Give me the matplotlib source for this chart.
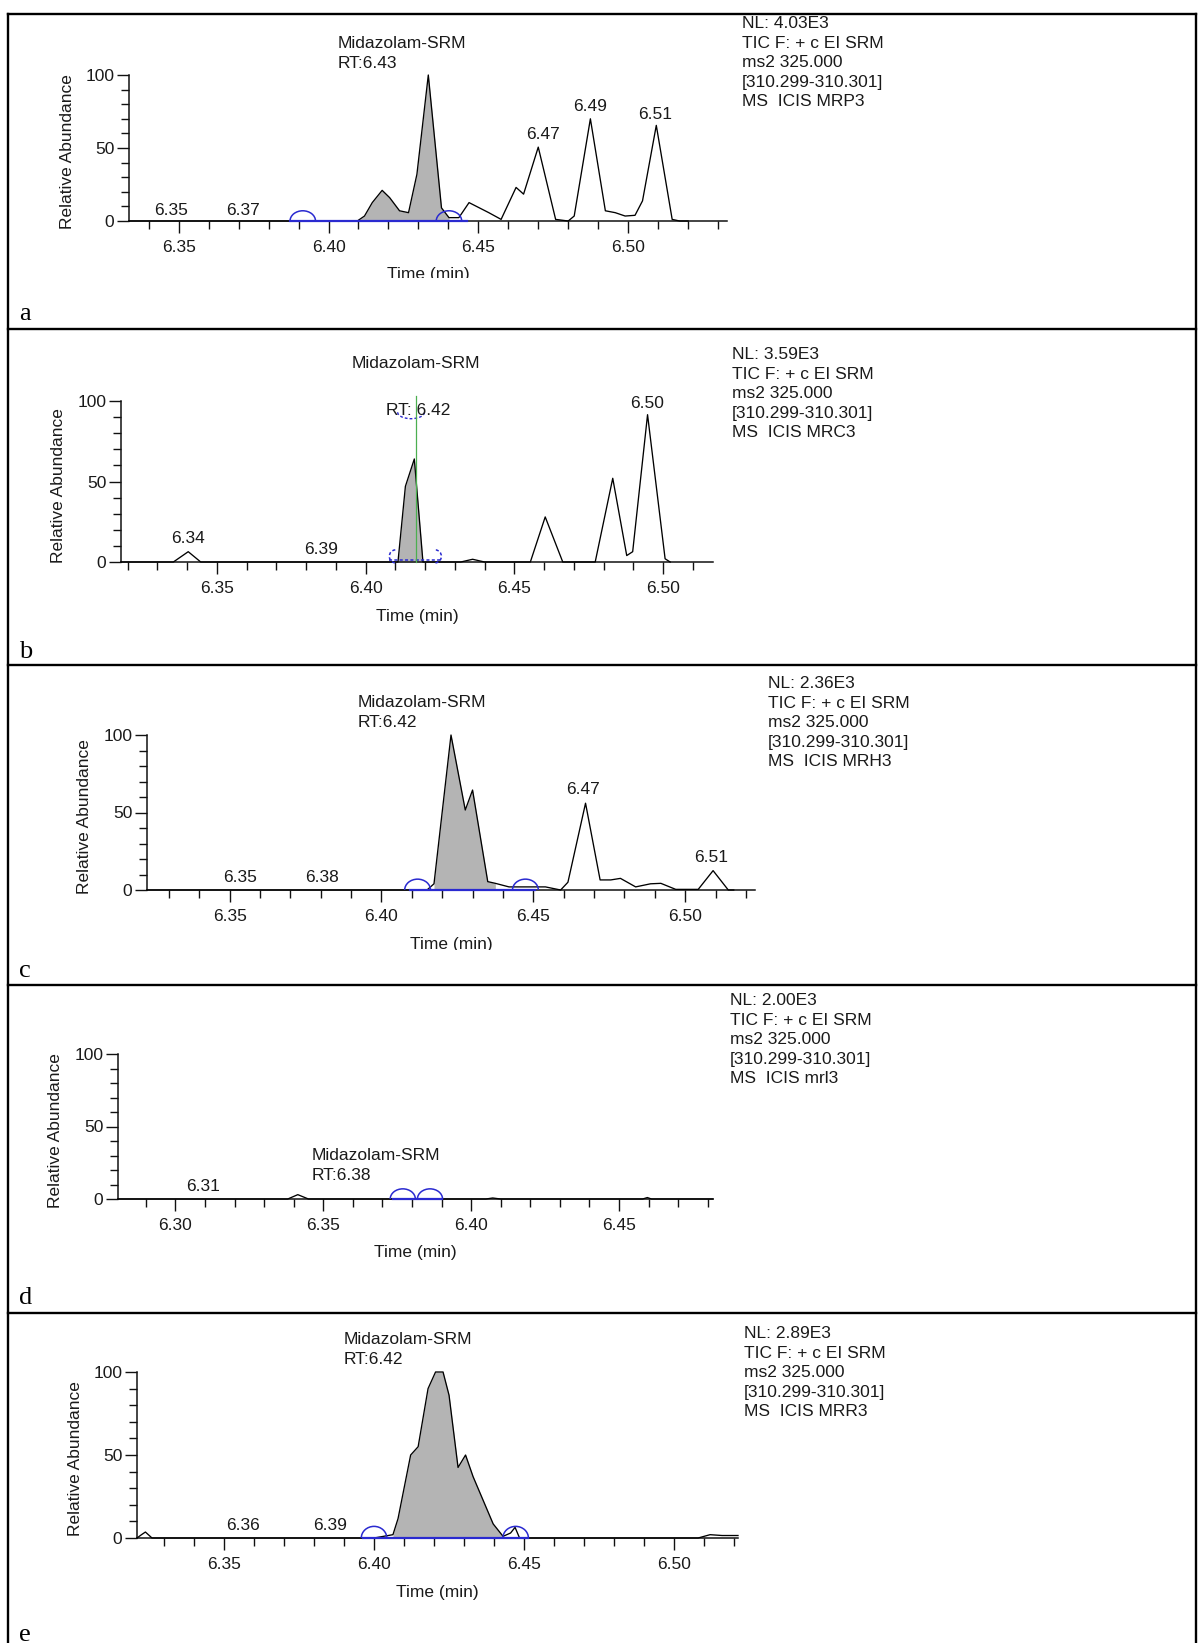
import numpy as np
import matplotlib.pyplot as plt
from matplotlib.patches import Arc
from matplotlib.lines import Line2D
from matplotlib.ticker import MultipleLocator
from matplotlib.transforms import Bbox, TransformedBbox

plt.rcParams['font.family'] = ['Liberation Sans', 'DejaVu Sans']

# Chromatogram traces (time in min, relative abundance %)
# ____________________________________________________________
a_time = [6.3334, 6.4096, 6.412, 6.4146, 6.4179, 6.4204, 6.4237, 6.4267, 6.4295, 6.4333,
          6.4377, 6.4402, 6.4435, 6.4469, 6.4535, 6.4576, 6.4626, 6.4651, 6.470, 6.4758,
          6.480, 6.482, 6.4874, 6.4924, 6.4957, 6.499, 6.5023, 6.5048, 6.5094, 6.5147,
          6.5172, 6.520]
a_abund = [0, 0, 3.4, 12.6, 21, 16, 7, 5.7, 32, 100,
           9, 2.3, 2.3, 12.6, 5.7, 1.1, 23, 18.4, 50.6, 1.1,
           0, 3.4, 70, 7, 5.7, 3.4, 3.9, 13.8, 65.5, 1.1,
           0, 0]

b_time = [6.3178, 6.3354, 6.3404, 6.3446, 6.4109, 6.4134, 6.4164, 6.4193, 6.432, 6.436,
          6.440, 6.4554, 6.4604, 6.4663, 6.4772, 6.4831, 6.4878, 6.4898, 6.4948, 6.5007,
          6.5024]
b_abund = [0, 0, 6.4, 0, 0, 47, 64, 0, 0, 1.7,
           0, 0, 28, 0, 0, 52, 4, 6.4, 91.5, 2,
           0]

c_time = [6.3228, 6.4150, 6.4173, 6.4229, 6.4276, 6.430, 6.435, 6.4375, 6.442, 6.454,
          6.459, 6.4614, 6.4672, 6.472, 6.4755, 6.4787, 6.4837, 6.4886, 6.492, 6.4969,
          6.5043, 6.5092, 6.5142, 6.516]
c_abund = [0, 0, 4, 100, 51.6, 64.5, 5.4, 4.3, 2, 2,
           0, 5, 56, 6.5, 6.5, 7.5, 2, 4, 4.3, 0.4,
           0.4, 12.5, 0, 0]

d_time = [6.2806, 6.338, 6.3414, 6.345, 6.405, 6.4073, 6.410, 6.458, 6.4596, 6.461, 6.4818]
d_abund = [0, 0, 3, 0, 0, 0.7, 0, 0, 1.0, 0, 0]

e_time = [6.321, 6.3225, 6.3238, 6.326, 6.400, 6.4063, 6.408, 6.4122, 6.4147, 6.418,
          6.4205, 6.423, 6.425, 6.428, 6.4305, 6.433, 6.4397, 6.443, 6.4455, 6.447,
          6.4485, 6.508, 6.512, 6.516, 6.5213]
e_abund = [0, 2, 3.6, 0, 0, 2, 11.7, 50, 55, 90,
           100, 100, 86, 42.5, 50, 37, 8.5, 1, 3, 6.4,
           0, 0, 2, 1.5, 1.5]

# axis ranges and tick labels
a_xlim = (6.3334, 6.533)
b_xlim = (6.3178, 6.5168)
c_xlim = (6.3228, 6.523)
d_xlim = (6.2806, 6.4818)
e_xlim = (6.321, 6.5213)
ticks_std = [6.35, 6.40, 6.45, 6.50]
ticks_d = [6.30, 6.35, 6.40, 6.45]
tick_labels_std = ['6.35', '6.40', '6.45', '6.50']
tick_labels_d = ['6.30', '6.35', '6.40', '6.45']

# integrated peak window (shaded) and baseline markers
a_peak = (6.4096, 6.4402)
b_peak = (6.4109, 6.4193)
c_peak = (6.4173, 6.4375)
d_peak = None
e_peak = (6.4063, 6.443)
a_base = (6.3873, 6.4461)
b_base = (6.4080, 6.4250)
c_base = (6.4093, 6.4507)
d_base = (6.3735, 6.390)
e_base = (6.3963, 6.4513)
a_marks = [6.3914, 6.4402]
b_marks = [6.4085, 6.4250]
c_marks = [6.4119, 6.4474]
d_marks = [6.3769, 6.3861]
e_marks = [6.400, 6.4472]

# peak labels: text, time, height of label bottom
a_lab_txt = ['6.35', '6.37', '6.47', '6.49', '6.51']
a_lab_t = [6.3475, 6.3715, 6.4717, 6.4874, 6.509]
a_lab_y = [2, 2, 54, 73, 68]
b_lab_txt = ['6.34', '6.39', '6.50']
b_lab_t = [6.3404, 6.3849, 6.4948]
b_lab_y = [10, 3, 94]
c_lab_txt = ['6.35', '6.38', '6.47', '6.51']
c_lab_t = [6.3533, 6.3805, 6.4663, 6.5084]
c_lab_y = [3, 3, 60, 16]
d_lab_txt = ['6.31']
d_lab_t = [6.3093]
d_lab_y = [3.5]
e_lab_txt = ['6.36', '6.39']
e_lab_t = [6.3563, 6.3855]
e_lab_y = [3, 3]

# compound name / retention time
a_rt = 'RT:6.43'
b_rt = 'RT: 6.42'
c_rt = 'RT:6.42'
d_rt = 'RT:6.38'
e_rt = 'RT:6.42'

# header lines
a_info = ['NL: 4.03E3', 'TIC F: + c EI SRM', 'ms2 325.000', '[310.299-310.301]', 'MS  ICIS MRP3']
b_info = ['NL: 3.59E3', 'TIC F: + c EI SRM', 'ms2 325.000', '[310.299-310.301]', 'MS  ICIS MRC3']
c_info = ['NL: 2.36E3', 'TIC F: + c EI SRM', 'ms2 325.000', '[310.299-310.301]', 'MS  ICIS MRH3']
d_info = ['NL: 2.00E3', 'TIC F: + c EI SRM', 'ms2 325.000', '[310.299-310.301]', 'MS  ICIS mrl3']
e_info = ['NL: 2.89E3', 'TIC F: + c EI SRM', 'ms2 325.000', '[310.299-310.301]', 'MS  ICIS MRR3']

# Figure layout (pixels)
# ____________________________________________________________
W, H = 1198, 1643
TXT = '#1a1a1a'
BLUE = '#2a2ad0'
FS = 12.5

fig = plt.figure(figsize=(W / 100, H / 100), dpi=100, facecolor='white')


def fx(px):
    return px / W


def fy(py):
    return 1 - py / H


def draw_panel(t, yv, xlim, ticks, tick_labels, box, peak, base, marks,
               lab_txt, lab_t, lab_y, rt, name_at, info, info_xy, letter, letter_y,
               clip_xlabel=None, green=None):
    x0, x1, y100, y0 = box
    ax = fig.add_axes([fx(x0), fy(y0), fx(x1) - fx(x0), (y0 - y100) / H])
    ax.patch.set_alpha(0)
    ax.set_xlim(*xlim)
    ax.set_ylim(0, 100)
    for s in ['top', 'right']:
        ax.spines[s].set_visible(False)
    for s in ['left', 'bottom']:
        ax.spines[s].set_linewidth(1.1)
        ax.spines[s].set_color('#111111')

    t = np.array(t)
    yv = np.array(yv)
    ax.plot(t, yv, color='black', lw=0.95, zorder=3, clip_on=False)
    if peak is not None:
        m = (t >= peak[0]) & (t <= peak[1])
        ax.fill_between(t[m], yv[m], 0, color='#b4b4b4', lw=0, zorder=2)

    if green is None:
        ax.plot(base, [0, 0], color=BLUE, lw=1.6, zorder=4, clip_on=False)
        for mx in marks:
            ax.add_patch(Arc((mx, 0), 0.0085, 14, theta1=0, theta2=180, color=BLUE,
                             lw=1.1, zorder=4, clip_on=False))
    else:
        # dashed bracket style peak boundaries
        dash = (0, (2, 1.5))
        ax.plot(base, [1.2, 1.2], color=BLUE, lw=1.1, ls=dash, zorder=4, clip_on=False)
        ax.add_patch(Arc((marks[0] + 0.0015, 3.5), 0.004, 8, theta1=90, theta2=270,
                         color=BLUE, lw=1.1, ls=dash, zorder=4, clip_on=False))
        ax.add_patch(Arc((marks[1] - 0.0015, 3.5), 0.004, 8, theta1=-90, theta2=90,
                         color=BLUE, lw=1.1, ls=dash, zorder=4, clip_on=False))
        ax.add_patch(Arc((green - 0.0015, 93), 0.009, 8, theta1=200, theta2=340,
                         color=BLUE, lw=1.0, ls=dash, zorder=4, clip_on=False))
        ax.plot([green, green], [0, 103], color='#4caf50', lw=0.9, zorder=5, clip_on=False)

    ax.set_xticks(ticks)
    ax.set_xticklabels(tick_labels)
    ax.xaxis.set_minor_locator(MultipleLocator(0.01))
    ax.set_yticks([0, 50, 100])
    ax.set_yticklabels(['0', '50', '100'])
    ax.yaxis.set_minor_locator(MultipleLocator(10))
    ax.tick_params(which='major', length=8.5, width=1.0, direction='out',
                   labelsize=FS, colors='#111111', labelcolor=TXT, pad=2)
    ax.tick_params(which='minor', length=5.5, width=1.0, direction='out', colors='#111111')
    ax.tick_params(axis='x', which='major', pad=5)

    for s, tx, ty in zip(lab_txt, lab_t, lab_y):
        ax.text(tx, ty, s, ha='center', va='bottom', fontsize=FS, color=TXT, clip_on=False)

    # compound name and RT
    nt, ny, two_line = name_at
    if two_line:
        ax.text(nt, ny, 'Midazolam-SRM\n' + rt, ha='left', va='bottom', fontsize=FS,
                color=TXT, linespacing=1.42, clip_on=False)
    else:
        ax.text(nt, ny, 'Midazolam-SRM', ha='center', va='center', fontsize=FS,
                color=TXT, clip_on=False)
        ax.text(green + 0.0008, 94, rt, ha='center', va='center', fontsize=FS,
                color=TXT, clip_on=False, zorder=4)

    # axis titles
    fig.text(fx(x0 - 62), fy((y0 + y100) / 2 + 4), 'Relative Abundance', rotation=90,
             ha='center', va='center', fontsize=FS, color=TXT)
    xl = fig.text(fx((x0 + x1) / 2), fy(y0 + 54), 'Time (min)', ha='center', va='center',
                  fontsize=FS, color=TXT)
    if clip_xlabel is not None:
        xl.set_clip_box(TransformedBbox(Bbox.from_extents(0, fy(clip_xlabel), 1, 1),
                                        fig.transFigure))
        xl.set_clip_on(True)

    ix, iy = info_xy
    for i, line in enumerate(info):
        fig.text(fx(ix), fy(iy + i * 19.6), line, ha='left', va='baseline',
                 fontsize=FS, color=TXT)

    fig.text(fx(19), fy(letter_y), letter, ha='left', va='baseline',
             fontsize=19, color='black', family='Liberation Serif')
    return ax


draw_panel(a_time, a_abund, a_xlim, ticks_std, tick_labels_std, (129, 727, 75, 221),
           a_peak, a_base, a_marks, a_lab_txt, a_lab_t, a_lab_y, a_rt,
           (6.403, 103, True), a_info, (742, 28), 'a', 320, clip_xlabel=278)
draw_panel(b_time, b_abund, b_xlim, ticks_std, tick_labels_std, (121, 713, 401, 562),
           b_peak, b_base, b_marks, b_lab_txt, b_lab_t, b_lab_y, b_rt,
           (6.4168, 123, False), b_info, (732, 359), 'b', 658, green=6.4168)
draw_panel(c_time, c_abund, c_xlim, ticks_std, tick_labels_std, (147, 755, 735, 890),
           c_peak, c_base, c_marks, c_lab_txt, c_lab_t, c_lab_y, c_rt,
           (6.3921, 103, True), c_info, (768, 688), 'c', 977, clip_xlabel=950)
draw_panel(d_time, d_abund, d_xlim, ticks_d, tick_labels_d, (118, 713, 1054, 1199),
           d_peak, d_base, d_marks, d_lab_txt, d_lab_t, d_lab_y, d_rt,
           (6.3461, 11, True), d_info, (730, 1005), 'd', 1304)
draw_panel(e_time, e_abund, e_xlim, ticks_std, tick_labels_std, (137, 738, 1372, 1538),
           e_peak, e_base, e_marks, e_lab_txt, e_lab_t, e_lab_y, e_rt,
           (6.3897, 103, True), e_info, (744, 1338), 'e', 1641)

# table borders
for yb in [14, 329, 665, 985, 1313]:
    fig.add_artist(Line2D([fx(8), fx(1196)], [fy(yb), fy(yb)], color='black', lw=1.7,
                          transform=fig.transFigure))
for xb in [8, 1196]:
    fig.add_artist(Line2D([fx(xb), fx(xb)], [fy(14), fy(H)], color='black', lw=1.7,
                          transform=fig.transFigure))

fig.savefig('out.png', dpi=100, facecolor='white')
